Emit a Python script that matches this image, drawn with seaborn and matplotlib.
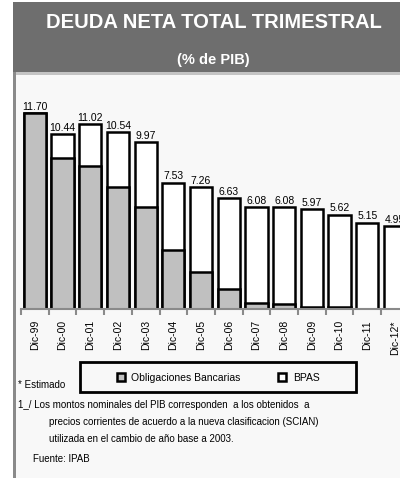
import matplotlib
matplotlib.use("Agg")
import matplotlib.pyplot as plt
import matplotlib.patches as mpatches
import seaborn as sns
import pandas as pd

#%% data
periodos = ["Dic-99", "Dic-00", "Dic-01", "Dic-02", "Dic-03", "Dic-04", "Dic-05",
            "Dic-06", "Dic-07", "Dic-08", "Dic-09", "Dic-10", "Dic-11", "Dic-12*"]
total = [11.70, 10.44, 11.02, 10.54, 9.97, 7.53, 7.26, 6.63, 6.08, 6.08, 5.97, 5.62, 5.15, 4.95]
obligaciones = [11.70, 9.03, 8.56, 7.27, 6.07, 3.52, 2.23, 1.19, 0.38, 0.28, 0.12, 0.12, 0.0, 0.0]
df = pd.DataFrame({"periodo": periodos, "total": total, "obligaciones": obligaciones})

plt.rcParams['font.family'] = ['Liberation Sans', 'DejaVu Sans']

W, H = 400, 478
def fx(px):
    return px / W
def fy(py):
    return 1 - py / H

fig = plt.figure(figsize=(4, 4.78), dpi=100, facecolor="white")

#%% frame / banner
fig.add_artist(mpatches.Rectangle((fx(13), 0), 1 - fx(13), fy(72), transform=fig.transFigure,
                                  facecolor="#f8f8f8", edgecolor="none", zorder=-3))
fig.add_artist(mpatches.Rectangle((fx(13), fy(72)), 1 - fx(13), fy(2) - fy(72), transform=fig.transFigure,
                                  facecolor="#6e6e6e", edgecolor="none", zorder=-2))
fig.add_artist(mpatches.Rectangle((fx(13), fy(75)), 1 - fx(13), 3 / H, transform=fig.transFigure,
                                  facecolor="#c4c4c4", edgecolor="none", zorder=-2))
fig.add_artist(mpatches.Rectangle((fx(13), 0), 3 / W, fy(72), transform=fig.transFigure,
                                  facecolor="#8a8a8a", edgecolor="none", zorder=-1))

fig.text(fx(214), fy(23), "DEUDA NETA TOTAL TRIMESTRAL", color="white", fontsize=14.5,
         fontweight="bold", ha="center", va="center")
fig.text(fx(213), fy(60), "(% de PIB)", color="white", fontsize=10.5,
         fontweight="bold", ha="center", va="center")

#%% bars
ax = fig.add_axes([fx(21), fy(309), 387.8 / W, (309 - 75) / H])
ax.set_facecolor("none")
sns.barplot(data=df, x="periodo", y="total", color="white", edgecolor="black", linewidth=1.8,
            width=0.8, saturation=1, errorbar=None, ax=ax)
sns.barplot(data=df, x="periodo", y="obligaciones", color="#c0c0c0", edgecolor="black", linewidth=1.8,
            width=0.8, saturation=1, errorbar=None, ax=ax)
ax.bar_label(ax.containers[0], fmt="%.2f", padding=1, fontsize=7.5)

ax.set_xlim(-0.5, 13.5)
ax.set_ylim(0, 13.97)
ax.set_xlabel("")
ax.set_ylabel("")
ax.set_yticks([])
for s in ["top", "right", "left"]:
    ax.spines[s].set_visible(False)
ax.spines["bottom"].set_color("#8a8a8a")
ax.spines["bottom"].set_linewidth(1.5)
ax.set_xticks(range(len(periodos)))
ax.set_xticklabels(periodos, rotation=90, fontsize=7.5)
ax.tick_params(axis="x", which="major", length=0, pad=8)
ax.set_xticks([i - 0.5 for i in range(len(periodos) + 1)], minor=True)
ax.tick_params(axis="x", which="minor", length=4, width=1.5, color="#8a8a8a")

#%% legend
handles = [mpatches.Patch(facecolor="#c0c0c0", edgecolor="black", linewidth=1.8),
           mpatches.Patch(facecolor="white", edgecolor="black", linewidth=1.8)]
fig.legend(handles, ["Obligaciones Bancarias", "BPAS"], loc="center",
           bbox_to_anchor=(fx(218), fy(378)), ncol=2, frameon=False, fontsize=7.5,
           handlelength=0.8, handleheight=0.8, columnspacing=3.6, handletextpad=0.6)
fig.add_artist(mpatches.Rectangle((fx(80), fy(392)), fx(356) - fx(80), (392 - 362) / H,
                                  transform=fig.transFigure, fill=False, edgecolor="black", linewidth=2))

#%% notes
fig.text(fx(18), fy(385), "* Estimado", fontsize=7, va="center")
fig.text(fx(18), fy(405), "1_/ Los montos nominales del PIB corresponden  a los obtenidos  a",
         fontsize=7, va="center")
fig.text(fx(49), fy(422), "precios corrientes de acuerdo a la nueva clasificacion (SCIAN)",
         fontsize=7, va="center")
fig.text(fx(49), fy(439), "utilizada en el cambio de año base a 2003.", fontsize=7, va="center")
fig.text(fx(33), fy(459), "Fuente: IPAB", fontsize=7, va="center")

fig.savefig("out.png", dpi=100)
